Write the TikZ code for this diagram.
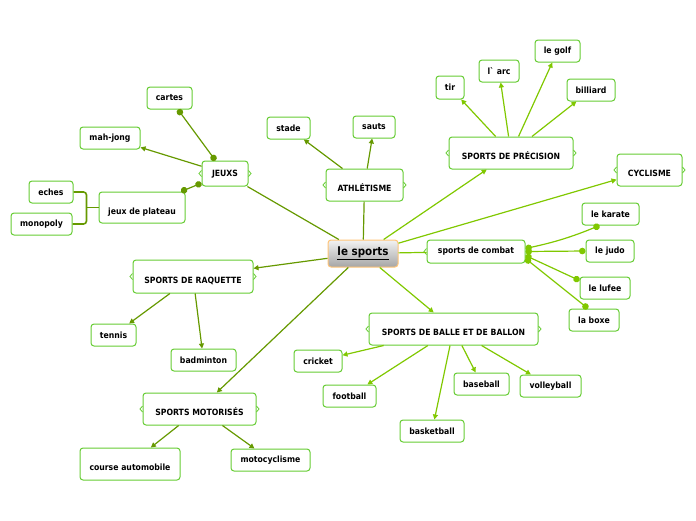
\documentclass[tikz,border=0pt]{standalone}
\usepackage{fontspec}
\setmainfont{DejaVu Sans Condensed}[BoldFont={DejaVu Sans Condensed Bold}]
\usetikzlibrary{arrows.meta}
\definecolor{boxgreen}{RGB}{102,204,51}
\definecolor{linedark}{RGB}{102,153,0}
\definecolor{linebright}{RGB}{128,200,0}
\definecolor{mainedge}{RGB}{255,196,120}

\begin{document}
\begin{tikzpicture}[x=1pt,y=-1pt,
  every node/.style={font=\fontsize{8.6}{10}\selectfont\bfseries},
  leaf/.style={draw=boxgreen,line width=1pt,rounded corners=3pt,fill=white,minimum height=22pt,inner sep=2pt},
  topic/.style={leaf,minimum height=32pt,text height=15pt,text depth=2pt},
  plain/.style={draw=linedark,line width=1.2pt},
  dark/.style={plain,-{Triangle[length=5pt,width=5pt]}},
  bright/.style={dark,draw=linebright},
  dots/.style={line width=1.2pt,{Circle[length=6.5pt]}-{Circle[length=6.5pt]}},
  brace/.style={draw=boxgreen,line width=0.8pt}]
  \useasboundingbox (0,0) rectangle (696,520);
  % Central topic
  \node[draw=mainedge,line width=1pt,rounded corners=3pt,top color=black!5,bottom color=black!35,
    minimum width=70pt,minimum height=27pt,font=\fontsize{11.5}{13}\selectfont\bfseries] (main) at (363,253.5) {\underline{le sports}};
  % Main topics
  \node[topic,minimum width=77pt] (athl) at (364.5,185) {ATHLÉTISME};
  \node[topic,minimum width=46pt,minimum height=25pt,text height=7pt,text depth=1pt] (jeux) at (225,173.5) {JEUXS};
  \node[topic,minimum width=124pt] (prec) at (511,153) {SPORTS DE PRÉCISION};
  \node[topic,minimum width=65pt] (cycl) at (649.5,170) {CYCLISME};
  \node[leaf,minimum width=98pt,minimum height=23pt] (combat) at (476,251.5) {sports de combat};
  \node[topic,minimum width=169pt] (balle) at (453.5,329) {SPORTS DE BALLE ET DE BALLON};
  \node[topic,minimum width=120pt,minimum height=33pt] (raq) at (193,276.5) {SPORTS DE RAQUETTE};
  \node[topic,minimum width=113pt] (moto) at (199.5,409) {SPORTS MOTORISÉS};
  % Brace marks on the topic boxes
  \foreach \n in {athl,jeux,prec,cycl,balle,raq,moto} {
    \draw[brace] (\n.west) ++(0,-3) -- ++(-2.5,3) -- ++(2.5,3);
    \draw[brace] (\n.east) ++(0,-3) -- ++(2.5,3) -- ++(-2.5,3);
  }
  \draw[brace] (combat.west) ++(0,-3) -- ++(-2.5,3) -- ++(2.5,3);
  % Leaves
  \node[leaf,minimum width=43pt] (stade) at (288.5,128) {stade};
  \node[leaf,minimum width=42pt] (sauts) at (374,127) {sauts};
  \node[leaf,minimum width=45pt] (cartes) at (169.5,98) {cartes};
  \node[leaf,minimum width=60pt] (mahjong) at (110,138) {mah-jong};
  \node[topic,minimum width=86pt,minimum height=31pt] (plateau) at (142,207.5) {jeux de plateau};
  \node[leaf,minimum width=44pt] (eches) at (51,192) {eches};
  \node[leaf,minimum width=61pt] (monopoly) at (41.5,224) {monopoly};
  \node[leaf,minimum width=28pt,minimum height=23pt] (tir) at (450,87.5) {tir};
  \node[leaf,minimum width=40pt] (arc) at (499,71) {l\textasciigrave\ arc};
  \node[leaf,minimum width=45pt] (golf) at (557.5,51) {le golf};
  \node[leaf,minimum width=48pt] (billiard) at (591,90) {billiard};
  \node[leaf,minimum width=57pt] (karate) at (610.5,214) {le karate};
  \node[leaf,minimum width=48pt] (judo) at (610,251) {le judo};
  \node[leaf,minimum width=50pt] (lufee) at (605,288) {le lufee};
  \node[leaf,minimum width=50pt] (boxe) at (594,320) {la boxe};
  \node[leaf,minimum width=48pt] (cricket) at (318,361) {cricket};
  \node[leaf,minimum width=53pt] (football) at (349.5,396) {football};
  \node[leaf,minimum width=64pt] (basketball) at (432,431) {basketball};
  \node[leaf,minimum width=55pt] (baseball) at (481.5,384) {baseball};
  \node[leaf,minimum width=61pt] (volleyball) at (550.5,386) {volleyball};
  \node[leaf,minimum width=45pt] (tennis) at (113.5,335) {tennis};
  \node[leaf,minimum width=65pt] (badminton) at (203.5,360) {badminton};
  \node[topic,minimum width=100pt] (course) at (130,464) {course automobile};
  \node[leaf,minimum width=79pt] (motocycl) at (270.5,460) {motocyclisme};
  % Central connectors
  \draw[plain] (main) -- (athl);
  \draw[plain] (main) -- (jeux);
  \draw[bright] (main) -- (prec);
  \draw[bright] (main) -- (cycl);
  \draw[plain,draw=linebright] (main) -- (combat);
  \draw[bright] (main) -- (balle);
  \draw[dark] (main) -- (raq);
  \draw[dark] (main) -- (moto);
  % Sub connectors
  \draw[dark] (athl) -- (stade);
  \draw[dark] (athl) -- (sauts);
  \draw[dots,draw=linedark] (jeux) -- (cartes);
  \draw[dark] (jeux) -- (mahjong);
  \draw[dots,draw=linedark] (jeux) -- (plateau);
  \draw[plain,line width=1.6pt] (plateau.west) -- ++(-12,0) coordinate (fork);
  \draw[plain,line width=1.6pt,rounded corners=3pt] (eches.east) -| (fork) |- (monopoly.east);
  \foreach \t in {tir,arc,golf,billiard}
    \draw[bright] (prec) -- (\t);
  \draw[dots,draw=linebright] ([yshift=3pt]combat.east) to[bend right=5] ([xshift=-11pt]karate.south);
  \draw[dots,draw=linebright] (combat.east) -- (judo.west);
  \draw[dots,draw=linebright] ([yshift=-4pt]combat.east) -- ([yshift=-4pt]lufee.north west);
  \draw[dots,draw=linebright] ([yshift=-7pt]combat.east) -- ([xshift=-6pt]boxe.north);
  \foreach \t in {cricket,football,basketball,baseball,volleyball}
    \draw[bright] (balle) -- (\t);
  \draw[dark] (raq) -- (tennis);
  \draw[dark] (raq) -- (badminton);
  \draw[dark] (moto) -- (course);
  \draw[dark] (moto) -- (motocycl);
\end{tikzpicture}
\end{document}
